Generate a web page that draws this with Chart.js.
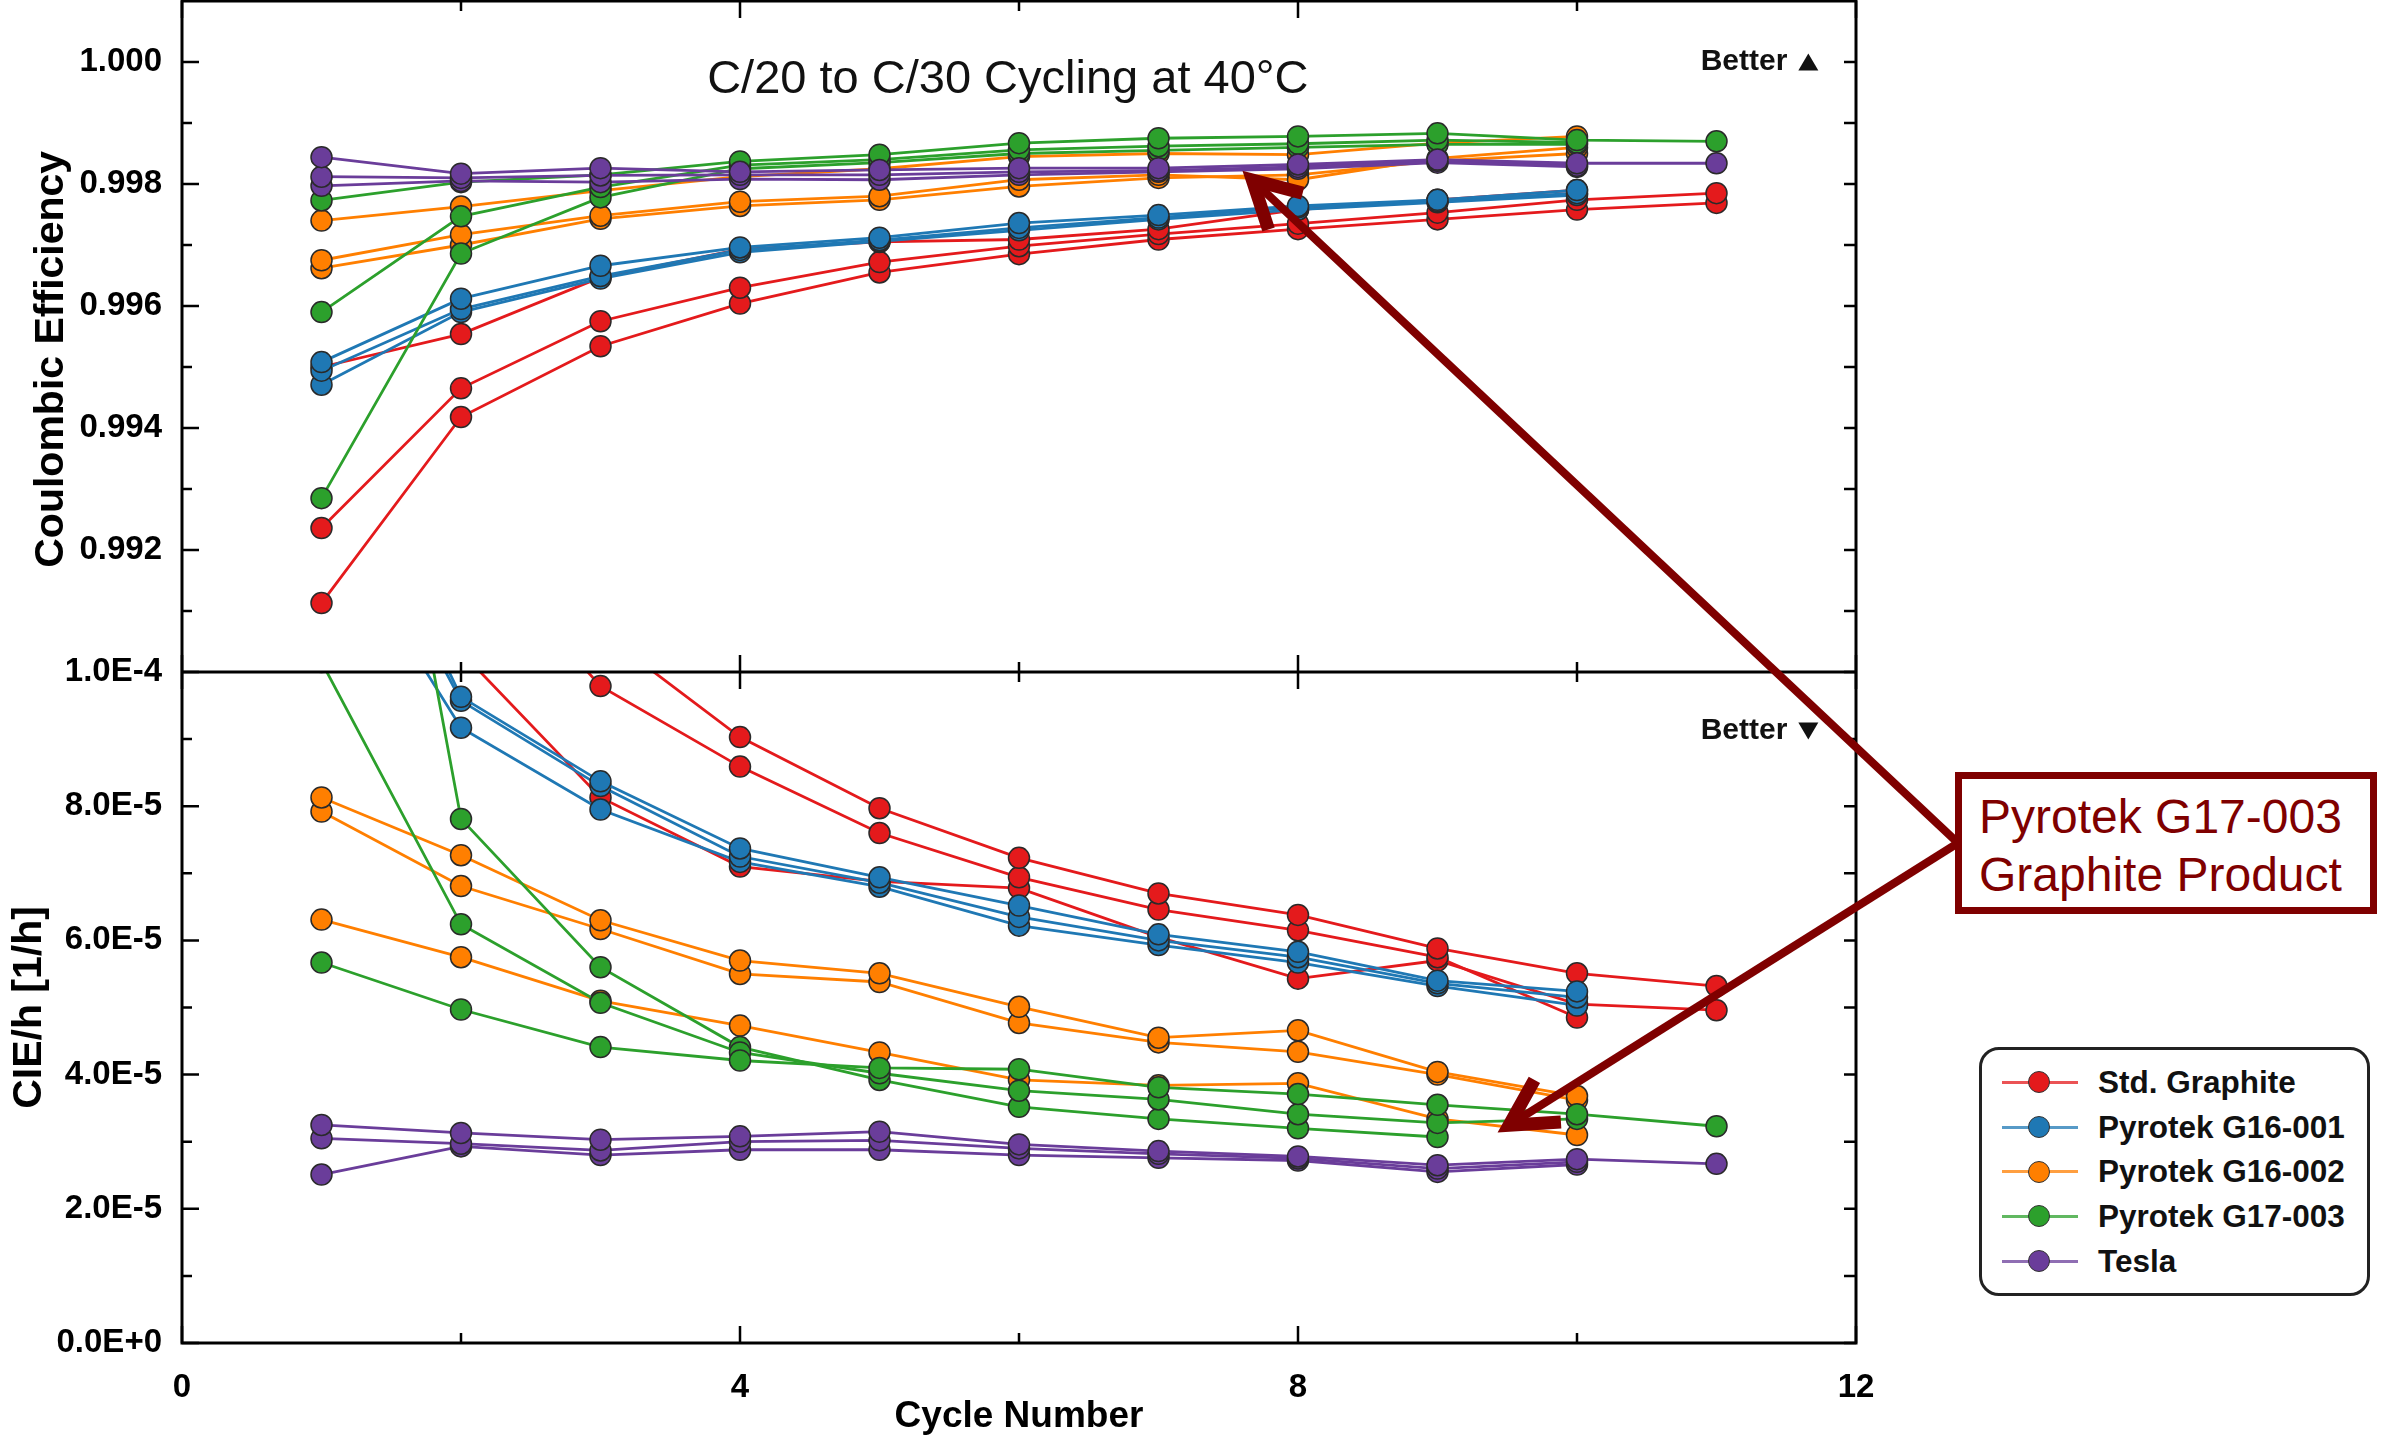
<!DOCTYPE html>
<html>
<head>
<meta charset="utf-8">
<script src="https://cdn.jsdelivr.net/npm/chart.js@4.4.1/dist/chart.umd.min.js"></script>
<style>
body { margin: 0; background: #fff; width: 2382px; height: 1440px; position: relative; overflow: hidden;
       font-family: "Liberation Sans", Arial, sans-serif; }
#chart { position: absolute; left: 0; top: 0; }
.note { position: absolute; left: 1955px; top: 772px; width: 422px; height: 142px; box-sizing: border-box;
        border: 7px solid #7f0000; background: #fff; color: #7f0000; font-size: 48px; line-height: 58px;
        padding: 9px 0 0 17px; white-space: nowrap; }
.legend { position: absolute; left: 1979px; top: 1047px; width: 391px; height: 249px; box-sizing: border-box;
          border: 3px solid #222; border-radius: 20px; background: #fff; padding-top: 10px; }
.legend .row { height: 44.7px; display: flex; align-items: center; font-weight: bold; font-size: 31.5px; color: #111; }
.swatch { position: relative; width: 76px; height: 22px; margin: 0 20px 0 20px; flex: none; }
.swatch i { position: absolute; left: 0; right: 0; top: 9.5px; height: 3px; opacity: 0.75; }
.swatch b { position: absolute; left: 26px; top: 0; width: 22px; height: 22px; border-radius: 50%;
            border: 1.5px solid #333; box-sizing: border-box; }
</style>
</head>
<body>
<canvas id="chart" width="2382" height="1440"></canvas>
<div class="note">Pyrotek G17-003<br>Graphite Product</div>
<div class="legend" id="legend"></div>
<script>
const cycles = [1, 2, 3, 4, 5, 6, 7, 8, 9, 10, 11];
const xTicks = [0, 4, 8, 12];
const ceTicks = [0.992, 0.994, 0.996, 0.998, 1.000];
const cieTicks = [0, 20, 40, 60, 80, 100];   // CIE/h in units of 1E-6 per hour

const materials = ['Std. Graphite', 'Pyrotek G16-001', 'Pyrotek G16-002', 'Pyrotek G17-003', 'Tesla'];
const colors = ['#e41a1c', '#1f78b4', '#ff7f00', '#2ca02c', '#6a3d9a'];

// coulombic efficiency, three cells per material
const ceStd = [
  [0.99500, 0.99554, 0.99647, 0.99693, 0.99705, 0.99709, 0.99726, 0.99758, 0.99774, 0.99790],
  [0.99236, 0.99465, 0.99575, 0.99630, 0.99672, 0.99698, 0.99718, 0.99735, 0.99753, 0.99774, 0.99785],
  [0.99113, 0.99418, 0.99534, 0.99604, 0.99655, 0.99685, 0.99709, 0.99726, 0.99742, 0.99758, 0.99769]
];
const ceG161 = [
  [0.99508, 0.99612, 0.99666, 0.99696, 0.99712, 0.99736, 0.99749, 0.99764, 0.99774, 0.99790],
  [0.99494, 0.99595, 0.99649, 0.99692, 0.99708, 0.99728, 0.99745, 0.99762, 0.99772, 0.99785],
  [0.99471, 0.99590, 0.99645, 0.99688, 0.99706, 0.99724, 0.99742, 0.99758, 0.99770, 0.99782]
];
const ceG162 = [
  [0.99740, 0.99763, 0.99789, 0.99812, 0.99825, 0.99845, 0.99850, 0.99848, 0.99867, 0.99878],
  [0.99675, 0.99717, 0.99748, 0.99771, 0.99780, 0.99807, 0.99815, 0.99807, 0.99842, 0.99860],
  [0.99662, 0.99700, 0.99743, 0.99764, 0.99774, 0.99796, 0.99810, 0.99815, 0.99838, 0.99850]
];
const ceG173 = [
  [0.99773, 0.99803, 0.99815, 0.99837, 0.99848, 0.99867, 0.99875, 0.99878, 0.99883, 0.99872, 0.99870],
  [0.99590, 0.99747, 0.99795, 0.99831, 0.99840, 0.99856, 0.99862, 0.99866, 0.99872, 0.99868],
  [0.99285, 0.99686, 0.99778, 0.99825, 0.99835, 0.99850, 0.99855, 0.99860, 0.99865, 0.99865]
];
const ceTesla = [
  [0.99844, 0.99817, 0.99826, 0.99820, 0.99823, 0.99826, 0.99826, 0.99832, 0.99840, 0.99834, 0.99834],
  [0.99812, 0.99810, 0.99814, 0.99815, 0.99815, 0.99820, 0.99822, 0.99828, 0.99838, 0.99830],
  [0.99797, 0.99805, 0.99803, 0.99808, 0.99807, 0.99815, 0.99820, 0.99825, 0.99835, 0.99828]
];

// CIE/h (x 1E-6 1/h); values above 100 run off the top of the panel
const cieStd = [
  [260, 150, 106, 90.3, 79.7, 72.3, 67.0, 63.8, 58.8, 55.1, 53.2],
  [300, 121, 97.9, 85.9, 76.0, 69.4, 64.6, 61.5, 57.5, 48.5],
  [200, 103, 81.3, 71.0, 68.8, 67.8, 60.5, 54.3, 57.0, 50.5, 49.6]
];
const cieG161 = [
  [140, 96.3, 83.7, 73.7, 69.4, 65.2, 60.9, 58.3, 54.0, 52.4],
  [135, 95.7, 83.0, 72.5, 68.6, 63.5, 60.0, 57.5, 53.6, 51.5],
  [125, 91.7, 79.5, 71.7, 68.0, 62.2, 59.3, 56.7, 53.2, 50.3]
];
const cieG162 = [
  [81.3, 72.7, 63.0, 57.0, 55.1, 50.1, 45.5, 46.6, 40.4, 36.8],
  [79.2, 68.1, 61.7, 55.0, 53.8, 47.7, 44.8, 43.4, 40.0, 36.2],
  [63.1, 57.5, 51.0, 47.3, 43.3, 39.2, 38.4, 38.7, 33.4, 31.0]
];
const cieG173 = [
  [56.7, 49.7, 44.1, 42.1, 41.0, 40.8, 38.1, 37.1, 35.5, 34.1, 32.3],
  [101.5, 62.4, 50.7, 43.3, 40.2, 37.6, 36.3, 34.1, 32.8, 33.4],
  [190, 78.1, 56.0, 44.1, 39.2, 35.2, 33.4, 32.0, 30.7]
];
const cieTesla = [
  [32.5, 31.3, 30.3, 30.8, 31.5, 29.6, 28.6, 27.8, 26.5, 27.4, 26.7],
  [30.5, 29.7, 28.7, 30.0, 30.2, 29.0, 28.2, 27.5, 26.0, 27.0],
  [25.1, 29.3, 28.0, 28.8, 28.8, 28.0, 27.6, 27.2, 25.5, 26.6]
];

const ceRuns = [ceStd, ceG161, ceG162, ceG173, ceTesla];
const cieRuns = [cieStd, cieG161, cieG162, cieG173, cieTesla];

Chart.defaults.font.family = '"Liberation Sans", Arial, sans-serif';
Chart.defaults.color = '#000';

// Tesla first so it is drawn on top, Std. Graphite last
const datasets = [];
for (let m = materials.length - 1; m >= 0; m--) {
    [[ceRuns[m], 'yCE'], [cieRuns[m], 'yCIE']].forEach(([runs, axis]) => {
        runs.forEach(run => {
            datasets.push({
                label: materials[m],
                yAxisID: axis,
                data: run.map((v, i) => ({ x: cycles[i], y: v })),
                borderColor: colors[m],
                backgroundColor: colors[m],
                borderWidth: 2.8,
                pointRadius: 10.5,
                pointBorderColor: '#2a2a2a',
                pointBorderWidth: 1.5,
                tension: 0
            });
        });
    });
}

// legend box
const legend = document.getElementById('legend');
materials.forEach((name, m) => {
    const row = document.createElement('div');
    row.className = 'row';
    row.innerHTML = '<span class="swatch"><i style="background:' + colors[m] + '"></i><b style="background:' +
        colors[m] + '"></b></span><span>' + name + '</span>';
    legend.appendChild(row);
});

function minorsOf(majors) {
    return majors.slice(1).map((v, i) => (v + majors[i]) / 2);
}

// frame with inward tick marks, like the original plotting tool
const frame = {
    id: 'frame',
    afterDatasetsDraw(chart) {
        const { ctx, chartArea: a, scales: { x, yCE, yCIE } } = chart;
        const mid = yCE.bottom;
        ctx.save();
        ctx.strokeStyle = '#000';
        ctx.lineWidth = 3;
        ctx.strokeRect(a.left, a.top, a.right - a.left, a.bottom - a.top);
        ctx.beginPath();
        ctx.moveTo(a.left, mid);
        ctx.lineTo(a.right, mid);
        ctx.stroke();

        ctx.lineWidth = 2.5;
        ctx.beginPath();
        [[yCE, [yCE.min].concat(ceTicks)], [yCIE, cieTicks]].forEach(([s, majors]) => {
            majors.forEach(v => {
                const y = s.getPixelForValue(v);
                ctx.moveTo(a.left, y); ctx.lineTo(a.left + 17, y);
                ctx.moveTo(a.right, y); ctx.lineTo(a.right - 12, y);
            });
            minorsOf(majors).forEach(v => {
                const y = s.getPixelForValue(v);
                ctx.moveTo(a.left, y); ctx.lineTo(a.left + 10, y);
                ctx.moveTo(a.right, y); ctx.lineTo(a.right - 12, y);
            });
        });
        const xt = [[xTicks, 17], [minorsOf(xTicks), 10]];
        xt.forEach(([vals, len]) => {
            vals.forEach(v => {
                const px = x.getPixelForValue(v);
                ctx.moveTo(px, a.top); ctx.lineTo(px, a.top + len);
                ctx.moveTo(px, mid - len); ctx.lineTo(px, mid + len);
                ctx.moveTo(px, a.bottom); ctx.lineTo(px, a.bottom - len);
            });
        });
        ctx.stroke();
        ctx.restore();
    }
};

function better(ctx, right, y, up) {
    const w = 20, h = 17;
    ctx.beginPath();
    if (up) {
        ctx.moveTo(right - w, y + h / 2); ctx.lineTo(right, y + h / 2); ctx.lineTo(right - w / 2, y - h / 2);
    } else {
        ctx.moveTo(right - w, y - h / 2); ctx.lineTo(right, y - h / 2); ctx.lineTo(right - w / 2, y + h / 2);
    }
    ctx.closePath();
    ctx.fill();
    ctx.font = 'bold 30px "Liberation Sans", Arial, sans-serif';
    ctx.textAlign = 'right';
    ctx.textBaseline = 'middle';
    ctx.fillText('Better', right - w - 11, y);
}

function arrow(ctx, x0, y0, x1, y1) {
    const a = Math.atan2(y1 - y0, x1 - x0), head = 52, spread = 0.5;
    const tx = x1 - 12 * Math.cos(a), ty = y1 - 12 * Math.sin(a);
    ctx.strokeStyle = '#7f0000';
    ctx.lineWidth = 8;
    ctx.beginPath();
    ctx.moveTo(x0, y0);
    ctx.lineTo(tx, ty);
    ctx.stroke();
    ctx.lineWidth = 13;
    ctx.lineJoin = 'miter';
    ctx.beginPath();
    ctx.moveTo(tx - head * Math.cos(a - spread), ty - head * Math.sin(a - spread));
    ctx.lineTo(tx, ty);
    ctx.lineTo(tx - head * Math.cos(a + spread), ty - head * Math.sin(a + spread));
    ctx.stroke();
}

const notes = {
    id: 'notes',
    afterDraw(chart) {
        const { ctx, scales: { x, yCE, yCIE } } = chart;
        ctx.save();
        ctx.fillStyle = '#111';
        ctx.font = '47px "Liberation Sans", Arial, sans-serif';
        ctx.textAlign = 'center';
        ctx.textBaseline = 'middle';
        ctx.fillText('C/20 to C/30 Cycling at 40°C', x.getPixelForValue(5.92), yCE.getPixelForValue(0.99970));
        better(ctx, x.getPixelForValue(11.73), yCE.getPixelForValue(1.000), true);
        better(ctx, x.getPixelForValue(11.73), yCIE.getPixelForValue(91.2), false);

        const note = document.querySelector('.note');
        const sx = note.offsetLeft + 3, sy = note.offsetTop + note.offsetHeight / 2;
        arrow(ctx, sx, sy, x.getPixelForValue(7.61), yCE.getPixelForValue(0.9982));
        arrow(ctx, sx, sy, x.getPixelForValue(9.44), yCIE.getPixelForValue(31.5));
        ctx.restore();
    }
};

const tickFont = { size: 33, weight: 'bold' };
const titleFont = { size: 41, weight: 'bold' };

// y axes: fixed width, and no extra room reserved for half label heights
function fitY(s) {
    s.width = 182;
    s.paddingTop = 0;
    s.paddingBottom = 0;
}

new Chart(document.getElementById('chart'), {
    type: 'line',
    data: { datasets: datasets },
    options: {
        responsive: false,
        animation: false,
        devicePixelRatio: 1,
        layout: { autoPadding: false, padding: { left: 0, top: 1, right: 526, bottom: 0 } },
        plugins: { legend: { display: false }, tooltip: { enabled: false } },
        scales: {
            x: {
                type: 'linear', min: 0, max: 12,
                grid: { display: false }, border: { display: false },
                afterBuildTicks: s => { s.ticks = xTicks.map(v => ({ value: v })); },
                afterFit: s => { s.height = 97; s.paddingLeft = 0; s.paddingRight = 0; },
                ticks: { padding: 17, font: tickFont, autoSkip: false, maxRotation: 0, callback: v => String(v) },
                title: { display: true, text: 'Cycle Number', font: { size: 37, weight: 'bold' }, padding: { top: 0, bottom: 1 } }
            },
            yCE: {
                type: 'linear', position: 'left', stack: 'panels', stackWeight: 1, weight: 2,
                min: 0.990, max: 1.001,
                grid: { display: false }, border: { display: false },
                afterBuildTicks: s => { s.ticks = ceTicks.map(v => ({ value: v })); },
                afterFit: fitY,
                ticks: { padding: 12, font: tickFont, autoSkip: false, callback: v => v.toFixed(3) },
                title: { display: true, text: 'Coulombic Efficiency\u00a0\u00a0\u00a0\u00a0', font: titleFont, padding: { top: 27, bottom: 0 } }
            },
            yCIE: {
                type: 'linear', position: 'left', stack: 'panels', stackWeight: 1, weight: 1,
                min: 0, max: 100,
                grid: { display: false }, border: { display: false },
                afterBuildTicks: s => { s.ticks = cieTicks.map(v => ({ value: v })); },
                afterFit: fitY,
                ticks: { padding: 12, font: tickFont, autoSkip: false,
                         callback: v => (v * 1e-6).toExponential(1).toUpperCase() },
                title: { display: true, text: 'CIE/h [1/h]', font: titleFont, padding: { top: 5, bottom: 0 } }
            }
        }
    },
    plugins: [frame, notes]
});
</script>
</body>
</html>
